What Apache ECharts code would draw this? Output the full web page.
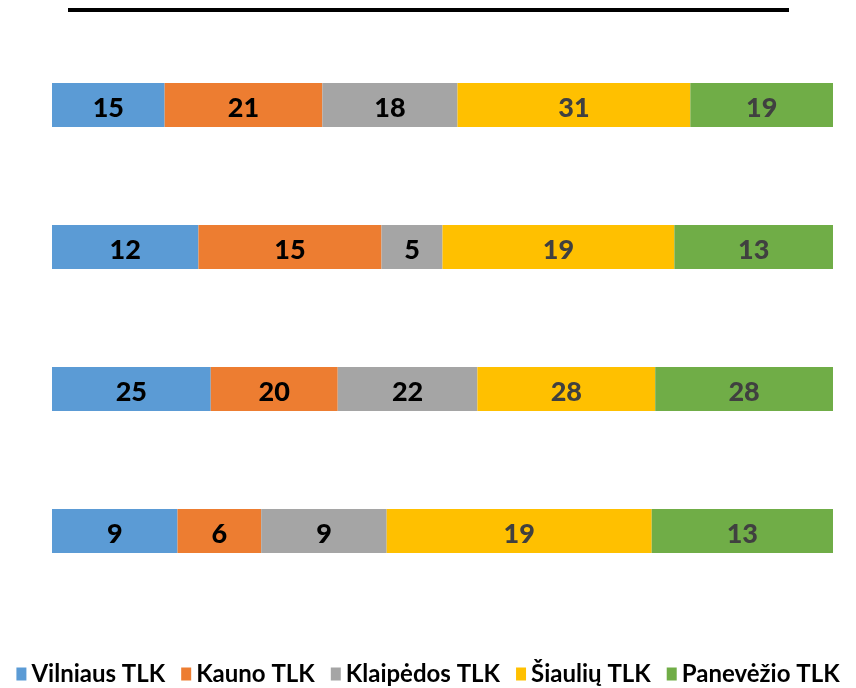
<!DOCTYPE html>
<html><head><meta charset="utf-8">
<script src="https://cdn.jsdelivr.net/npm/echarts@6/dist/echarts.min.js"></script>
<style>html,body{margin:0;padding:0;background:#fff}#c{width:856px;height:688px}</style>
</head><body><div id="c"></div>
<script>
var categories = ['A', 'B', 'C', 'D'];
var seriesNames = ['Vilniaus TLK', 'Kauno TLK', 'Klaipėdos TLK', 'Šiaulių TLK', 'Panevėžio TLK'];
var vilnius = [15, 12, 25, 9];
var kaunas = [21, 15, 20, 6];
var klaipeda = [18, 5, 22, 9];
var siauliai = [31, 19, 28, 19];
var panevezys = [19, 13, 28, 13];
var colors = ['#5B9BD5', '#ED7D31', '#A5A5A5', '#FFC000', '#70AD47'];
var labelColors = ['#000000', '#000000', '#000000', '#404040', '#404040'];

var all = [vilnius, kaunas, klaipeda, siauliai, panevezys];
var totals = categories.map(function (_, i) {
  return all.reduce(function (s, a) { return s + a[i]; }, 0);
});

var series = all.map(function (arr, k) {
  return {
    name: seriesNames[k],
    type: 'bar',
    stack: 'total',
    barWidth: 44,
    itemStyle: { color: colors[k] },
    label: {
      show: true,
      position: 'inside',
      offset: [0, 3],
      fontFamily: 'Lato',
      fontWeight: 900,
      fontSize: 27,
      color: labelColors[k],
      formatter: function (p) { return arr[p.dataIndex]; }
    },
    data: arr.map(function (v, i) { return v / totals[i] * 100; })
  };
});

var chart = echarts.init(document.getElementById('c'), null, { renderer: 'canvas' });
chart.setOption({
  animation: false,
  grid: { left: 52, right: 23, top: 34, bottom: 86, containLabel: false },
  xAxis: { type: 'value', min: 0, max: 100, show: false },
  yAxis: { type: 'category', data: categories, inverse: true, show: false },
  legend: {
    bottom: -3,
    left: 'center',
    itemWidth: 10,
    itemHeight: 13,
    itemGap: 16,
    icon: 'rect',
    textStyle: { fontFamily: 'Lato', fontWeight: 'bold', fontSize: 24, color: '#000' },
    data: seriesNames
  },
  graphic: [{
    type: 'rect',
    shape: { x: 68, y: 8, width: 721, height: 4 },
    style: { fill: '#000' }
  }],
  series: series
});
</script>
</body></html>
